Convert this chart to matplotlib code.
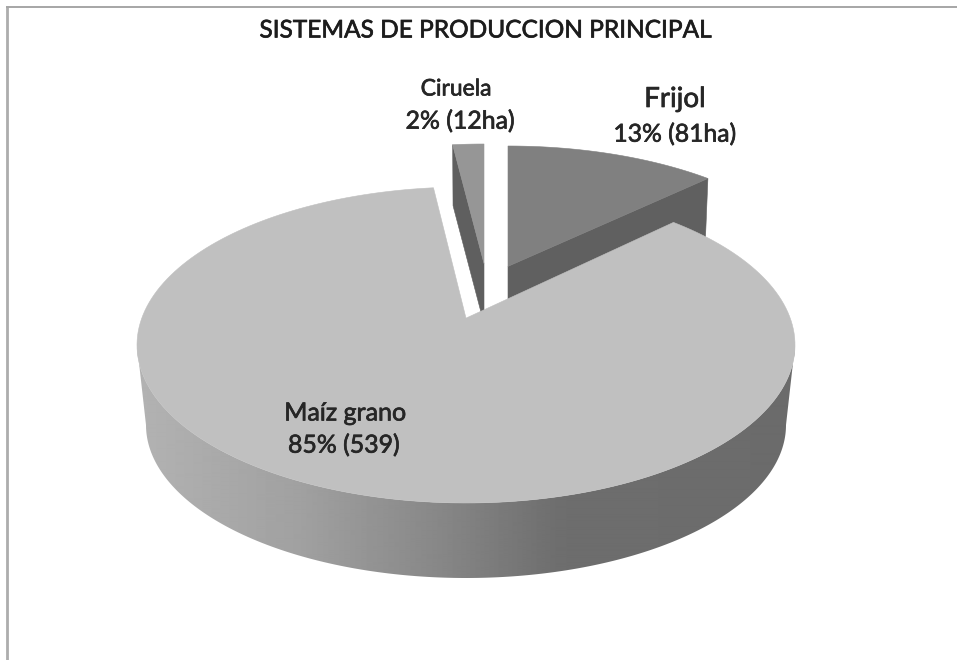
import numpy as np
import matplotlib
matplotlib.use("Agg")
import matplotlib.pyplot as plt
import matplotlib.patheffects as pe
from matplotlib.patches import Polygon

# ---- data ----
categories = ["Frijol", "Maíz grano", "Ciruela"]
hectares = [81, 539, 12]
percent_labels = ["13% (81ha)", "85% (539)", "2% (12ha)"]
title_text = "SISTEMAS DE PRODUCCION PRINCIPAL"

plt.rcParams["font.family"] = ["Lato", "DejaVu Sans"]

fig = plt.figure(figsize=(9.57, 6.60), dpi=100)
ax = fig.add_axes([0, 0, 1, 1])
ax.set_xlim(0, 957)
ax.set_ylim(660, 0)
ax.axis("off")

# slice angles, clockwise from 12 o'clock, computed from the values
shares = np.array(hectares, dtype=float) / sum(hectares) * 360
edges = np.concatenate([[0], np.cumsum(shares)])

APEX = 0.17  # normalised perspective shift of the pie centre


def rim(theta, cx, cy, rx, ry):
    """Where a ray from the shifted apex at angle theta meets the ellipse."""
    t = np.radians(theta)
    dx, dy = np.sin(t), np.cos(t)
    b = APEX * dy
    s = -b + np.sqrt(b ** 2 + 1 - APEX ** 2)
    return np.column_stack([cx + rx * s * dx, cy - ry * (APEX + s * dy)])


def apex(cx, cy, ry):
    return np.array([[cx, cy - APEX * ry]])


def top_face(a0, a1, geo, color, z):
    arc = rim(np.linspace(a0, a1, 200), *geo)
    pts = np.vstack([apex(geo[0], geo[1], geo[3]), arc])
    ax.add_patch(Polygon(pts, closed=True, fc=color, ec=color, lw=0.4, zorder=z))


def wall(angle, top, bottom, color, z):
    pts = np.vstack([
        apex(top[0], top[1], top[3]),
        rim(np.array([angle]), *top),
        rim(np.array([angle]), *bottom),
        apex(bottom[0], bottom[1], bottom[3]),
    ])
    ax.add_patch(Polygon(pts, closed=True, fc=color, ec=color, lw=0.4, zorder=z))


# Frijol
fr_top = (508, 291, 317, 145)
fr_bot = (508, 351, 313, 143)
wall(edges[1], fr_top, fr_bot, "#606060", 2)
top_face(edges[0], edges[1], fr_top, "#808080", 3)

# Ciruela
ci_top = (484, 288, 317, 144)
ci_bot = (484, 348, 313, 143)
wall(edges[2], ci_top, ci_bot, "#5f5f5f", 2)
top_face(edges[2], edges[3], ci_top, "#969696", 3)

# Maiz grano: outer wall with a left-to-right shading
ma_top = (466, 345, 329, 158)
ma_bot = (466, 425, 320, 153)
phi = np.radians(np.linspace(90, 270, 300))
upper = np.column_stack([ma_top[0] + ma_top[2] * np.sin(phi), ma_top[1] - ma_top[3] * np.cos(phi)])
lower = np.column_stack([ma_bot[0] + ma_bot[2] * np.sin(phi), ma_bot[1] - ma_bot[3] * np.cos(phi)])
side = Polygon(np.vstack([upper, lower[::-1]]), closed=True, transform=ax.transData,
               fc="none", ec="none")
ax.add_patch(side)
stops_x = np.array([137, 300, 440, 560, 795])
stops_v = np.array([0.70, 0.63, 0.53, 0.43, 0.42])
grad = np.interp(np.linspace(137, 795, 658), stops_x, stops_v)[None, :]
im = ax.imshow(grad, extent=(137, 795, 590, 330), cmap="gray", vmin=0, vmax=1,
               aspect="auto", zorder=4, interpolation="bilinear")
im.set_clip_path(side)
ax.set_xlim(0, 957)
ax.set_ylim(660, 0)

top_face(edges[1], edges[2], ma_top, "#c0c0c0", 5)

# frame fragments of the original picture
ax.plot([6.5, 6.5], [6, 660], color="#adadad", lw=2.0, solid_capstyle="butt", zorder=1)
ax.plot([5.5, 957], [6.5, 6.5], color="#a6a6a6", lw=1.4, solid_capstyle="butt", zorder=1)

# text
tc = "#262626"
heavy = [pe.withStroke(linewidth=0.5, foreground=tc)]


def label(x, y, s, size, color=tc):
    ax.text(x, y, s, ha="center", va="center", fontsize=size, color=color,
            zorder=6, path_effects=heavy)


label(485, 31, title_text, 17.6, "#1c1c1c")
label(675, 99, categories[0], 20)
label(675, 134, percent_labels[0], 17.8)
label(345, 413, categories[1], 18)
label(344, 445, percent_labels[1], 17.9)
label(456, 89, categories[2], 16.5)
label(460, 121, percent_labels[2], 17.9)

fig.savefig("out.png", dpi=100, facecolor="white")
